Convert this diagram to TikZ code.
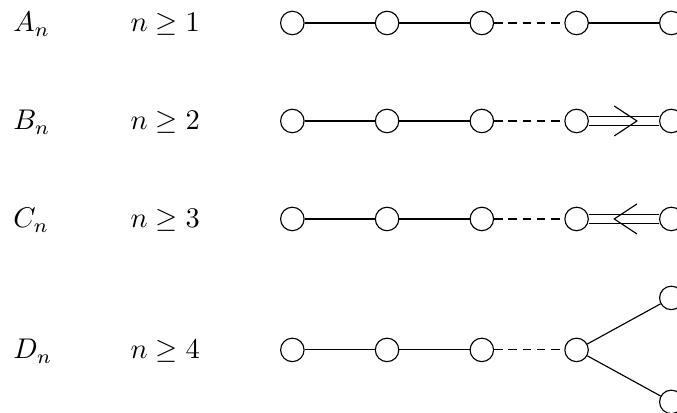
\documentclass[tikz,border=0pt]{standalone}
\usepackage{amsmath,amssymb}
\usetikzlibrary{calc}
\tikzset{
  csucs/.style={circle,draw,fill=white,inner sep=0pt,minimum size=0.29cm},
  szagg/.style={dash pattern=on 3pt off 2pt},
  ketto/.style={double,double distance=3pt},
  felirat/.style={anchor=base west},
}

\begin{document}
\begin{tikzpicture}
  \useasboundingbox (0,0) rectangle (8.36,-5.09);
  % kozos resz: nev, feltetel, elso negy csucs
  \foreach \r/\y/\nev/\k in {a/-0.284/A/1, b/-1.494/B/2, c/-2.704/C/3, d/-4.321/D/4} {
    \node[felirat] (\r-nev) at (0.04,\y-0.11) {$\nev_n$};
    \node[felirat] (\r-felt) at (1.49,\y-0.11) {$n\geq \k$};
    \foreach \i/\x in {1/3.61, 2/4.78, 3/5.95, 4/7.12}
      \node[csucs] (\r\i) at (\x,\y) {};
    \draw (\r1) -- (\r2);
    \draw (\r2) -- (\r3);
    \draw[szagg] (\r3) -- (\r4);
  }
  % A_n
  \node[csucs] (a5) at (8.29,-0.284) {};
  \draw (a4) -- (a5);
  % B_n
  \node[csucs] (b5) at (8.29,-1.494) {};
  \draw[ketto] (b4) -- (b5);
  \coordinate (bk) at ($(b4)!0.5!(b5)$);
  \draw ($(bk)+(-0.12,0.185)$) -- ($(bk)+(0.16,0)$) -- ($(bk)+(-0.12,-0.185)$);
  % C_n
  \node[csucs] (c5) at (8.29,-2.704) {};
  \draw[ketto] (c4) -- (c5);
  \coordinate (ck) at ($(c4)!0.5!(c5)$);
  \draw ($(ck)+(0.16,0.185)$) -- ($(ck)+(-0.12,0)$) -- ($(ck)+(0.16,-0.185)$);
  % D_n
  \node[csucs] (d5) at (8.29,-3.679) {};
  \node[csucs] (d6) at (8.29,-4.963) {};
  \draw (d4) -- (d5);
  \draw (d4) -- (d6);
\end{tikzpicture}
\end{document}
